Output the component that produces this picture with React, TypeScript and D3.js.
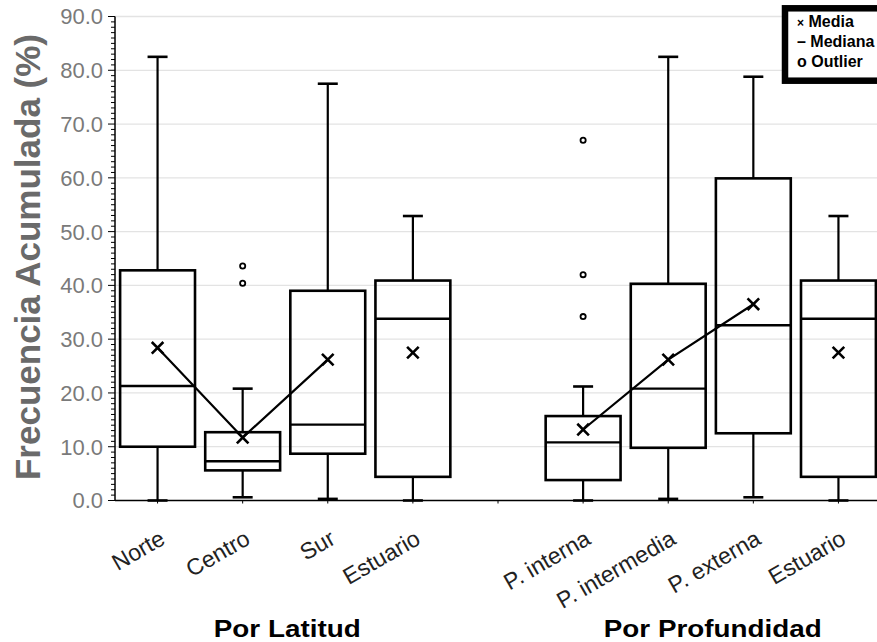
import React from "react";
import * as d3 from "d3";

// Category slots along the x axis; "gap" separates the two groupings
const slotKeys = [
  "lat-norte",
  "lat-centro",
  "lat-sur",
  "lat-estuario",
  "gap",
  "prof-interna",
  "prof-intermedia",
  "prof-externa",
  "prof-estuario",
];
const slotLabels = [
  "Norte",
  "Centro",
  "Sur",
  "Estuario",
  "",
  "P. interna",
  "P. intermedia",
  "P. externa",
  "Estuario",
];

// Box statistics per category (same order as slotKeys, gap excluded)
const boxKeys = [
  "lat-norte",
  "lat-centro",
  "lat-sur",
  "lat-estuario",
  "prof-interna",
  "prof-intermedia",
  "prof-externa",
  "prof-estuario",
];
const whiskerLow = [0.0, 0.6, 0.3, 0.0, 0.0, 0.3, 0.6, 0.0];
const q1 = [10.0, 5.6, 8.7, 4.4, 3.8, 9.8, 12.5, 4.4];
const median = [21.3, 7.3, 14.1, 33.8, 10.8, 20.8, 32.6, 33.8];
const q3 = [42.8, 12.7, 39.0, 40.9, 15.7, 40.3, 59.9, 40.9];
const whiskerHigh = [82.5, 20.8, 77.5, 52.9, 21.2, 82.5, 78.8, 52.9];
const mean = [28.4, 11.7, 26.2, 27.5, 13.2, 26.2, 36.5, 27.5];
const outliers: number[][] = [[], [40.4, 43.6], [], [], [34.2, 42.0, 67.0], [], [], []];

// Means joined by a line within each grouping
const meanLines = [
  ["lat-norte", "lat-centro", "lat-sur"],
  ["prof-interna", "prof-intermedia", "prof-externa"],
];

const groupTitles = ["Por Latitud", "Por Profundidad"];
const groupMembers = [
  ["lat-norte", "lat-estuario"],
  ["prof-interna", "prof-estuario"],
];

const yTicks = [0, 10, 20, 30, 40, 50, 60, 70, 80, 90];

const W = 877;
const H = 642;
const FONT = "'Liberation Sans', Arial, sans-serif";

export default function App() {
  const x = d3.scaleBand<string>().domain(slotKeys).range([115, 881]).padding(0);
  const y = d3.scaleLinear().domain([0, 90]).range([500.5, 16.5]);
  const bw = x.bandwidth();
  const boxW = bw * 0.88;
  const capW = 20;
  const cx = (k: string) => (x(k) as number) + bw / 2;
  const fmt = d3.format(".1f");
  const minorTicks = d3.range(0, 91, 1);

  const meanLine = d3
    .line<string>()
    .x((k) => cx(k))
    .y((k) => y(mean[boxKeys.indexOf(k)]));

  return (
    <svg
      width={W}
      height={H}
      style={{ position: "absolute", left: 0, top: 0, background: "#fff" }}
      fontFamily={FONT}
    >
      <rect x={0} y={0} width={W} height={H} fill="#fff" />

      {/* horizontal gridlines */}
      {yTicks
        .filter((t) => t > 0)
        .map((t) => (
          <line key={"g" + t} x1={115} x2={W} y1={y(t)} y2={y(t)} stroke="#e3e3e3" strokeWidth={1.3} />
        ))}

      {/* y axis */}
      <line x1={115} x2={115} y1={y(90)} y2={y(0)} stroke="#000" strokeWidth={1.5} />
      {minorTicks.map((t) => (
        <line
          key={"m" + t}
          x1={t % 10 === 0 ? 108 : 111}
          x2={115}
          y1={y(t)}
          y2={y(t)}
          stroke="#000"
          strokeWidth={1}
        />
      ))}
      {yTicks.map((t) => (
        <text
          key={"yl" + t}
          x={103}
          y={y(t)}
          dy="0.36em"
          textAnchor="end"
          fontSize={22}
          fill="#7a7a7a"
        >
          {fmt(t)}
        </text>
      ))}
      <text
        transform={`translate(40,257) rotate(-90)`}
        textAnchor="middle"
        fontSize={35}
        fontWeight="bold"
        fill="#6a6a6a"
      >
        Frecuencia Acumulada (%)
      </text>

      {/* x axis */}
      <line x1={115} x2={W} y1={y(0)} y2={y(0)} stroke="#000" strokeWidth={1.5} />
      {slotKeys.map((k) => (
        <line key={"xt" + k} x1={cx(k)} x2={cx(k)} y1={y(0)} y2={y(0) + 3} stroke="#000" strokeWidth={1} />
      ))}
      {slotKeys.map((k, i) =>
        slotLabels[i] ? (
          <text
            key={"xl" + k}
            transform={`translate(${cx(k) + 9},543) rotate(-30)`}
            textAnchor="end"
            fontSize={23}
            fill="#222"
          >
            {slotLabels[i]}
          </text>
        ) : null
      )}
      {groupTitles.map((g, i) => {
        const [a, b] = groupMembers[i];
        const mid = (cx(a) + cx(b)) / 2;
        return (
          <text
            key={"gt" + i}
            x={mid + 2}
            y={637}
            textAnchor="middle"
            fontSize={24}
            fontWeight="bold"
            fill="#000"
            textLength={i === 0 ? 147 : 218}
            lengthAdjust="spacingAndGlyphs"
          >
            {g}
          </text>
        );
      })}

      {/* boxes */}
      {boxKeys.map((k, i) => {
        const c = cx(k);
        return (
          <g key={"b" + k} stroke="#000" fill="none">
            <line x1={c} x2={c} y1={y(q3[i])} y2={y(whiskerHigh[i])} strokeWidth={2.2} />
            <line x1={c} x2={c} y1={y(q1[i])} y2={y(whiskerLow[i])} strokeWidth={2.2} />
            <line x1={c - capW / 2} x2={c + capW / 2} y1={y(whiskerHigh[i])} y2={y(whiskerHigh[i])} strokeWidth={2.6} />
            <line x1={c - capW / 2} x2={c + capW / 2} y1={y(whiskerLow[i])} y2={y(whiskerLow[i])} strokeWidth={2.6} />
            <rect
              x={c - boxW / 2}
              y={y(q3[i])}
              width={boxW}
              height={y(q1[i]) - y(q3[i])}
              strokeWidth={2.6}
              fill="none"
            />
            <line x1={c - boxW / 2} x2={c + boxW / 2} y1={y(median[i])} y2={y(median[i])} strokeWidth={2.4} />
            {outliers[i].map((o, j) => (
              <circle key={j} cx={c} cy={y(o)} r={2.6} strokeWidth={1.8} fill="#fff" />
            ))}
          </g>
        );
      })}

      {/* mean lines */}
      {meanLines.map((ks, i) => (
        <path key={"ml" + i} d={meanLine(ks) || ""} fill="none" stroke="#000" strokeWidth={2.2} />
      ))}

      {/* mean markers */}
      {boxKeys.map((k, i) => {
        const c = cx(k);
        const m = y(mean[i]);
        const s = 5.8;
        return (
          <path
            key={"mx" + k}
            d={`M${c - s},${m - s}L${c + s},${m + s}M${c - s},${m + s}L${c + s},${m - s}`}
            stroke="#000"
            strokeWidth={2.6}
            fill="none"
          />
        );
      })}

      {/* legend */}
      <rect x={785} y={8.3} width={100} height={72.4} fill="#fff" stroke="#000" strokeWidth={6.5} />
      <g fontSize={16} fontWeight="bold" fill="#000">
        <text x={797} y={26.7}>
          <tspan fontSize={12}>×</tspan> Media
        </text>
        <text x={797} y={46.7}>
          – Mediana
        </text>
        <text x={797} y={66.7}>
          o Outlier
        </text>
      </g>
    </svg>
  );
}
